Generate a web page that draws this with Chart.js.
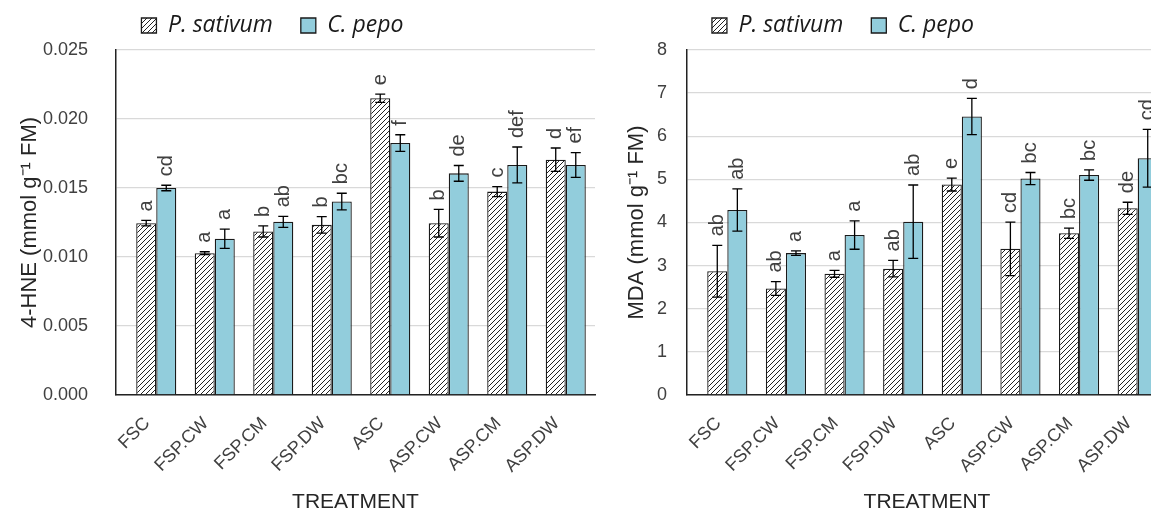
<!DOCTYPE html>
<html>
<head>
<meta charset="utf-8">
<script src="https://cdn.jsdelivr.net/npm/chart.js@4.4.0/dist/chart.umd.min.js"></script>
<style>
  body { margin: 0; background: #fff; }
  #wrap { position: relative; width: 1151px; height: 516px; overflow: hidden; }
  canvas { position: absolute; top: 0; }
</style>
</head>
<body>
<div id="wrap">
  <canvas id="hneChart" width="600" height="516" style="left:0"></canvas>
  <canvas id="mdaChart" width="580" height="516" style="left:590px"></canvas>
</div>
<script>
const treatments = ["FSC", "FSP.CW", "FSP.CM", "FSP.DW", "ASC", "ASP.CW", "ASP.CM", "ASP.DW"];

// 4-HNE (left)
const hneSativum = [0.01245, 0.01028, 0.01185, 0.01233, 0.0215, 0.01245, 0.01474, 0.01705];
const hneSativumErr = [0.0002, 0.0001, 0.0004, 0.0006, 0.0003, 0.001, 0.00036, 0.00085];
const hneSativumLetters = ["a", "a", "b", "b", "e", "b", "c", "d"];
const hnePepo = [0.0150, 0.01132, 0.01255, 0.01402, 0.01826, 0.01606, 0.01667, 0.01667];
const hnePepoErr = [0.0002, 0.0007, 0.0004, 0.0006, 0.0006, 0.00057, 0.0013, 0.0009];
const hnePepoLetters = ["cd", "a", "ab", "bc", "f", "de", "def", "ef"];

// MDA (right)
const mdaSativum = [2.87, 2.47, 2.81, 2.93, 4.88, 3.39, 3.75, 4.33];
const mdaSativumErr = [0.6, 0.16, 0.08, 0.19, 0.15, 0.62, 0.12, 0.14];
const mdaSativumLetters = ["ab", "ab", "a", "ab", "e", "cd", "bc", "de"];
const mdaPepo = [4.29, 3.29, 3.71, 4.02, 6.46, 5.02, 5.10, 5.49];
const mdaPepoErr = [0.49, 0.05, 0.33, 0.85, 0.42, 0.14, 0.12, 0.67];
const mdaPepoLetters = ["ab", "a", "a", "ab", "d", "bc", "bc", "cd"];

const blue = "#92cddc";

function hatch() {
	const c = document.createElement("canvas");
	c.width = c.height = 5;
	const g = c.getContext("2d");
	g.fillStyle = "#fff";
	g.fillRect(0, 0, 5, 5);
	g.strokeStyle = "#222";
	g.lineWidth = 1;
	g.beginPath();
	g.moveTo(0, 5); g.lineTo(5, 0);
	g.moveTo(-1, 1); g.lineTo(1, -1);
	g.moveTo(4, 6); g.lineTo(6, 4);
	g.stroke();
	return g.createPattern(c, "repeat");
}

// error bars + significance letters
const annotations = {
	id: "annotations",
	afterDatasetsDraw(chart) {
		const ctx = chart.ctx;
		const y = chart.scales.y;
		chart.data.datasets.forEach((ds, di) => {
			chart.getDatasetMeta(di).data.forEach((bar, i) => {
				const v = ds.data[i], e = ds.errors[i];
				const yt = y.getPixelForValue(v + e);
				const yb = y.getPixelForValue(v - e);
				ctx.save();
				ctx.strokeStyle = "#000";
				ctx.lineWidth = 1.3;
				ctx.beginPath();
				ctx.moveTo(bar.x, yt); ctx.lineTo(bar.x, yb);
				ctx.moveTo(bar.x - 5, yt); ctx.lineTo(bar.x + 5, yt);
				ctx.moveTo(bar.x - 5, yb); ctx.lineTo(bar.x + 5, yb);
				ctx.stroke();
				ctx.translate(bar.x, yt - 9);
				ctx.rotate(-Math.PI / 2);
				ctx.font = '20px "Liberation Sans"';
				ctx.fillStyle = "#404040";
				ctx.textAlign = "left";
				ctx.textBaseline = "middle";
				ctx.fillText(ds.letters[i], 0, 0);
				ctx.restore();
			});
		});
	}
};

// Excel leaves a small gap between the value axis and the first category,
// and the legend is not centred on the canvas
const tweakLayout = {
	id: "tweakLayout",
	afterLayout(chart, args, opts) {
		const lg = chart.legend;
		lg.left += opts.dx; lg.right += opts.dx;
		lg.top += opts.dy; lg.bottom += opts.dy;
		const x = chart.scales.x;
		x._startPixel += opts.inset;
		x._length -= opts.inset;
	}
};

function makeChart(id, s, sErr, sLet, p, pErr, pLet, yOpts) {
	const ctx = document.getElementById(id).getContext("2d");
	return new Chart(ctx, {
		type: "bar",
		data: {
			labels: treatments,
			datasets: [
				{ label: "P. sativum", data: s, errors: sErr, letters: sLet,
				  backgroundColor: hatch(), borderColor: "#1a1a1a", borderWidth: 1.3 },
				{ label: "C. pepo", data: p, errors: pErr, letters: pLet,
				  backgroundColor: blue, borderColor: "#1a1a1a", borderWidth: 1.3 }
			]
		},
		options: {
			responsive: false,
			animation: false,
			layout: { padding: { left: yOpts.padLeft, right: yOpts.padRight, top: 7, bottom: 0 } },
			datasets: { bar: { categoryPercentage: 0.685, barPercentage: 1 } },
			plugins: {
				tooltip: { enabled: false },
				tweakLayout: { dx: yOpts.legendDx, dy: -3, inset: 11 },
				legend: {
					labels: {
						font: { family: "Open Sans", size: 23, style: "italic" },
						color: "#1a1a1a",
						boxWidth: 15,
						boxHeight: 15,
						padding: 10,
						generateLabels(chart) {
							const items = Chart.defaults.plugins.legend.labels.generateLabels(chart);
							items[0].text += "   ";
							return items;
						}
					}
				}
			},
			scales: {
				x: {
					grid: { display: false },
					border: { color: "#222", width: 1.5 },
					ticks: { color: "#404040", font: { family: "Liberation Sans", size: 18 },
					         minRotation: 45, maxRotation: 45, autoSkip: false, padding: 10, labelOffset: -9 },
					title: { display: true, text: "TREATMENT", color: "#262626",
					         font: { family: "Liberation Sans", size: 21 }, padding: { top: 0, bottom: 1 } },
					afterFit(scale) { scale.height = 121; }
				},
				y: {
					min: 0,
					max: yOpts.max,
					grid: { color: "#d9d9d9", lineWidth: 1.3, drawTicks: false },
					border: { color: "#222", width: 1.5 },
					ticks: { stepSize: yOpts.step, color: "#404040", padding: yOpts.tickPad,
					         font: { family: "Liberation Sans", size: 18 },
					         callback: yOpts.fmt },
					title: { display: true, text: yOpts.title, color: "#262626",
					         font: { family: "Liberation Sans", size: 22 }, padding: { top: 3, bottom: 0 } },
					afterFit(scale) { scale.width = yOpts.width; }
				}
			}
		},
		plugins: [annotations, tweakLayout]
	});
}

makeChart("hneChart", hneSativum, hneSativumErr, hneSativumLetters, hnePepo, hnePepoErr, hnePepoLetters, {
	max: 0.025, step: 0.005, fmt: v => v.toFixed(3), title: "4-HNE (mmol g\u207B\u00B9 FM)",
	padLeft: 14, padRight: 5, width: 102, tickPad: 28, legendDx: -32
});

makeChart("mdaChart", mdaSativum, mdaSativumErr, mdaSativumLetters, mdaPepo, mdaPepoErr, mdaPepoLetters, {
	max: 8, step: 1, fmt: v => v, title: "MDA (mmol g\u207B\u00B9 FM)",
	padLeft: 31, padRight: 3, width: 66, tickPad: 20, legendDx: -51
});
</script>
</body>
</html>
